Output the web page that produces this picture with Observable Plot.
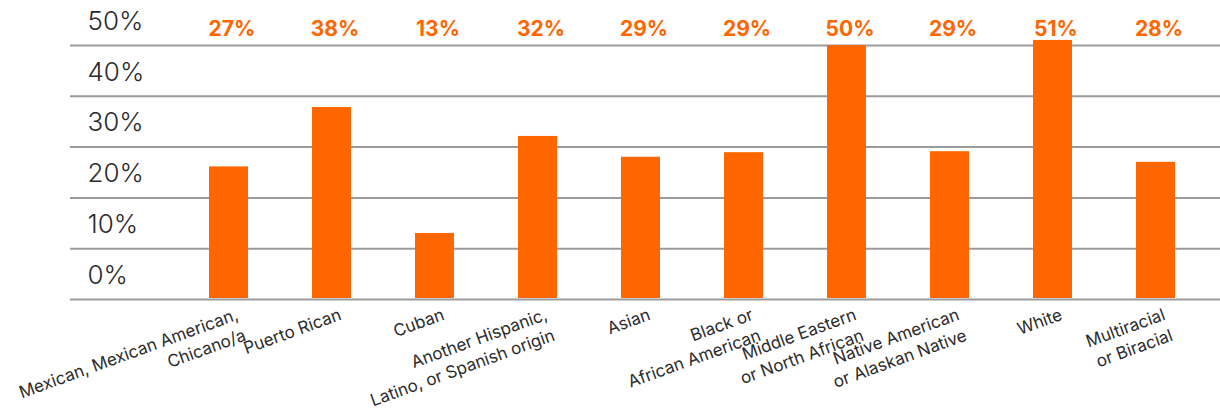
<!DOCTYPE html>
<html>
<head>
<meta charset="utf-8">
<script src="https://cdn.jsdelivr.net/npm/d3@7"></script>
<script src="https://cdn.jsdelivr.net/npm/@observablehq/plot@0.6"></script>
<style>
  html, body { margin: 0; padding: 0; background: #fff; }
  #chart svg { display: block; }
</style>
</head>
<body>
<div id="chart"></div>
<script>
const categories = [
  "Mexican, Mexican American,\nChicano/a",
  "Puerto Rican",
  "Cuban",
  "Another Hispanic,\nLatino, or Spanish origin",
  "Asian",
  "Black or\nAfrican American",
  "Middle Eastern\nor North African",
  "Native American\nor Alaskan Native",
  "White",
  "Multiracial\nor Biracial"
];
const values = [26.1, 37.8, 13.0, 32.1, 28.0, 28.9, 50.0, 29.1, 51.0, 27.0];
const valueLabels = ["27%", "38%", "13%", "32%", "29%", "29%", "50%", "29%", "51%", "28%"];
const yTicks = [0, 10, 20, 30, 40, 50];

const data = categories.map((c, i) => ({category: c, value: values[i], label: valueLabels[i]}));

const orange = "#FF6600";
const font = "Inter, 'Open Sans', sans-serif";

const chart = Plot.plot({
  width: 1220,
  height: 410,
  marginTop: 45,
  marginBottom: 111,
  marginLeft: 70,
  marginRight: 0,
  style: {fontFamily: font, background: "#fff"},
  x: {domain: categories, range: [177, 1207], paddingInner: 0.62, paddingOuter: 0.31, axis: null},
  y: {domain: [0, 50], axis: null},
  marks: [
    Plot.ruleY(yTicks, {stroke: "#9b9b9f", strokeWidth: 2}),
    Plot.barY(data, {x: "category", y: "value", fill: orange, insetBottom: 1}),
    Plot.text(yTicks, {
      y: d => d,
      text: d => d + "%",
      frameAnchor: "left",
      textAnchor: "start",
      dx: 17,
      dy: -24,
      fontSize: 26,
      fontWeight: 300,
      fill: "#2b2b2b"
    }),
    Plot.text(data, {
      x: "category",
      text: "label",
      frameAnchor: "top",
      dy: -24,
      dx: 3,
      fontSize: 21,
      fontWeight: 700,
      fill: orange
    }),
    Plot.text(data, {
      x: "category",
      y: 0,
      text: "category",
      rotate: -20,
      textAnchor: "end",
      lineAnchor: "top",
      lineHeight: 1.3,
      dx: 5,
      dy: 5,
      fontSize: 17,
      fill: "#2b2b2b"
    })
  ]
});
document.getElementById("chart").appendChild(chart);
</script>
</body>
</html>
